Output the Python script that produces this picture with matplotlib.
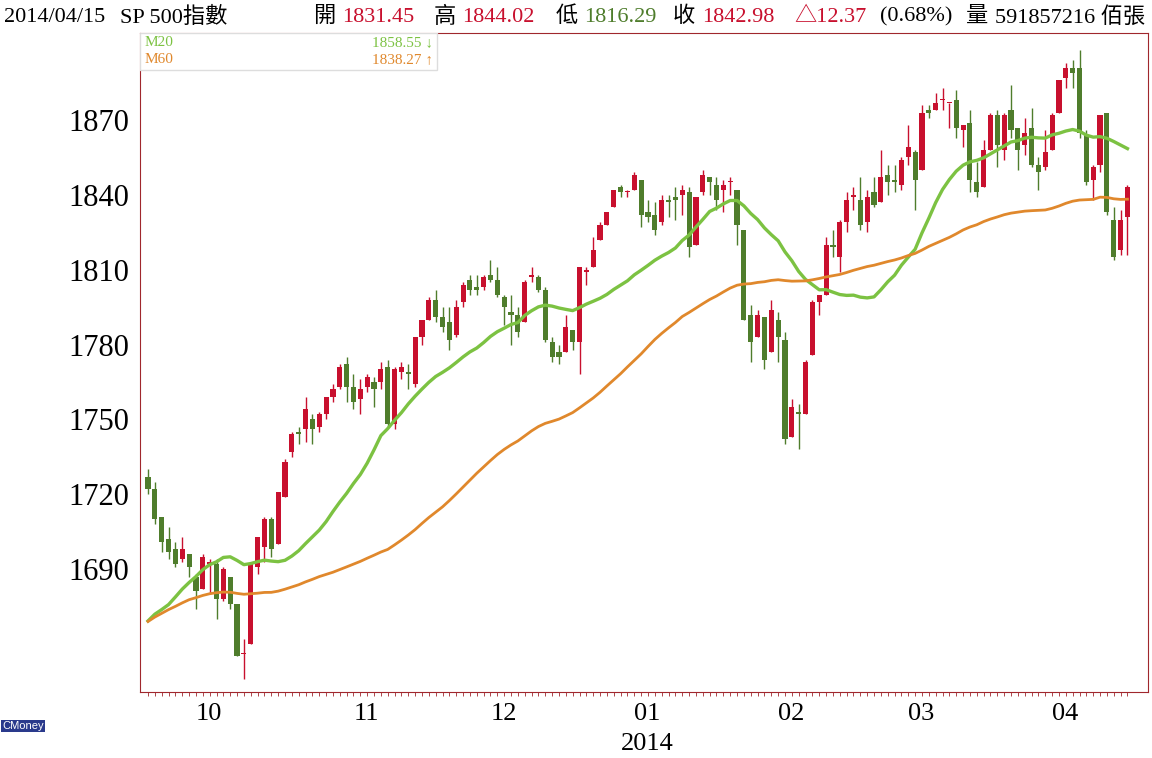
import matplotlib
matplotlib.use("Agg")
import matplotlib.pyplot as plt
from matplotlib.patches import Rectangle
import numpy as np
import pandas as pd

plt.rcParams['font.family'] = ['Liberation Serif', 'Noto Sans CJK TC', 'DejaVu Sans']

# closes before the visible window (used only for the moving averages)
prior_close = [1588, 1603, 1613, 1606, 1614, 1614, 1615, 1632, 1641, 1652, 1653, 1675, 1680, 1683, 1677,
               1680, 1689, 1692, 1696, 1692, 1686, 1690, 1691, 1685, 1685, 1686, 1706, 1710, 1707, 1698,
               1690, 1697, 1691, 1689, 1694, 1685, 1661, 1656, 1646, 1652, 1642, 1656, 1664, 1657, 1631,
               1635, 1638, 1633, 1640, 1653, 1655, 1655, 1671, 1684, 1690, 1683, 1688, 1698, 1705, 1726]

# visible candles: Sep 19 2013 .. Apr 15 2014  (open, high, low, close)
ohlc = [
    (1727, 1730, 1720, 1722), (1722, 1725, 1708, 1710), (1711, 1711, 1697, 1701), (1702, 1707, 1694, 1697),
    (1698, 1701, 1691, 1692), (1694, 1703, 1693, 1698), (1696, 1696, 1687, 1691), (1687, 1688, 1674, 1681),
    (1682, 1696, 1682, 1695), (1692, 1694, 1680, 1693), (1692, 1694, 1670, 1678), (1678, 1691, 1677, 1690),
    (1687, 1687, 1674, 1676), (1676, 1676, 1655, 1655), (1656, 1662, 1646, 1656), (1660, 1692, 1660, 1692),
    (1691, 1703, 1688, 1703), (1699, 1711, 1693, 1710), (1710, 1711, 1695, 1698), (1700, 1721, 1700, 1721),
    (1719, 1734, 1719, 1733), (1737, 1745, 1735, 1744), (1745, 1747, 1740, 1744), (1746, 1759, 1741, 1754),
    (1750, 1752, 1740, 1746), (1747, 1753, 1745, 1752), (1752, 1759, 1750, 1759), (1759, 1764, 1757, 1762),
    (1763, 1772, 1762, 1771), (1772, 1775, 1757, 1763), (1763, 1768, 1754, 1757),
    (1758, 1766, 1752, 1762), (1763, 1768, 1761, 1767), (1765, 1767, 1755, 1762), (1765, 1773, 1762, 1770),
    (1771, 1774, 1747, 1748), (1748, 1771, 1746, 1770), (1769, 1773, 1766, 1771), (1769, 1772, 1762, 1768),
    (1764, 1783, 1763, 1783), (1783, 1790, 1780, 1790), (1790, 1799, 1790, 1798), (1798, 1802, 1789, 1791),
    (1791, 1795, 1785, 1787), (1789, 1795, 1778, 1782), (1784, 1798, 1783, 1795), (1797, 1805, 1795, 1804),
    (1806, 1808, 1800, 1802), (1803, 1808, 1800, 1802), (1803, 1808, 1802, 1807), (1808, 1814, 1805, 1806),
    (1806, 1811, 1799, 1800), (1799, 1800, 1788, 1795), (1793, 1800, 1780, 1792), (1792, 1795, 1783, 1785),
    (1789, 1806, 1789, 1805), (1807, 1811, 1805, 1808), (1807, 1808, 1801, 1802), (1802, 1803, 1781, 1782),
    (1781, 1783, 1773, 1775), (1777, 1780, 1772, 1775), (1777, 1792, 1777, 1787), (1786, 1786, 1778, 1781),
    (1781, 1811, 1768, 1811), (1809, 1811, 1804, 1810), (1811, 1823, 1811, 1818), (1822, 1829, 1822, 1828),
    (1828, 1833, 1828, 1833), (1835, 1842, 1835, 1842), (1843, 1844, 1839, 1841), (1841, 1842, 1839, 1841),
    (1842, 1849, 1842, 1848),
    (1846, 1846, 1827, 1832), (1833, 1838, 1829, 1831), (1832, 1837, 1824, 1826), (1829, 1840, 1828, 1838),
    (1838, 1840, 1831, 1837), (1839, 1843, 1830, 1838), (1840, 1844, 1832, 1842), (1841, 1843, 1815, 1819),
    (1820, 1839, 1820, 1839), (1841, 1850, 1840, 1848), (1847, 1847, 1840, 1845), (1844, 1847, 1834, 1838),
    (1842, 1846, 1833, 1844), (1845, 1847, 1840, 1845), (1842, 1842, 1820, 1828), (1826, 1826, 1790, 1790),
    (1792, 1796, 1773, 1781), (1783, 1794, 1783, 1792), (1791, 1791, 1770, 1774), (1777, 1798, 1777, 1794),
    (1790, 1793, 1773, 1783),
    (1782, 1785, 1740, 1742), (1743, 1758, 1743, 1755), (1753, 1756, 1738, 1752), (1752, 1774, 1752, 1773),
    (1776, 1798, 1776, 1797), (1797, 1800, 1792, 1800), (1800, 1823, 1800, 1820), (1820, 1826, 1815, 1819),
    (1815, 1830, 1809, 1829), (1829, 1841, 1825, 1838), (1839, 1843, 1834, 1840), (1838, 1847, 1826, 1828),
    (1829, 1842, 1825, 1839), (1841, 1847, 1835, 1836), (1837, 1858, 1837, 1847), (1848, 1852, 1840, 1845),
    (1846, 1852, 1841, 1845), (1844, 1855, 1842, 1854), (1855, 1868, 1852, 1859),
    (1857, 1858, 1834, 1846), (1850, 1876, 1850, 1873), (1874, 1876, 1871, 1873), (1874, 1881, 1874, 1877),
    (1878, 1883, 1874, 1878), (1877, 1877, 1867, 1877), (1878, 1882, 1863, 1867), (1866, 1868, 1859, 1868),
    (1869, 1874, 1841, 1846), (1845, 1853, 1839, 1841), (1843, 1862, 1843, 1858), (1858, 1873, 1858, 1872),
    (1872, 1874, 1851, 1860), (1858, 1873, 1854, 1872), (1874, 1884, 1863, 1866), (1867, 1867, 1850, 1858),
    (1860, 1871, 1856, 1865), (1867, 1875, 1851, 1852), (1852, 1855, 1842, 1849), (1851, 1866, 1850, 1857),
    (1858, 1873, 1858, 1872),
    (1873, 1886, 1873, 1886), (1887, 1893, 1883, 1891), (1891, 1894, 1883, 1889), (1891, 1898, 1863, 1865),
    (1864, 1866, 1844, 1845), (1846, 1852, 1838, 1851), (1852, 1872, 1849, 1872), (1873, 1873, 1832, 1833),
    (1830, 1835, 1814, 1815), (1818, 1834, 1816, 1830), (1831, 1844, 1816, 1843),
]

month_labels = ["10", "11", "12", "01", "02", "03", "04"]
month_start_idx = [8, 31, 51, 72, 93, 112, 133]
ytick_vals = [1690, 1720, 1750, 1780, 1810, 1840, 1870]

df = pd.DataFrame(ohlc, columns=["o", "h", "l", "c"])
allc = pd.Series(prior_close + list(df["c"]))
ma20 = allc.rolling(20).mean().iloc[len(prior_close):].values
ma60 = allc.rolling(60).mean().iloc[len(prior_close):].values
x = np.arange(len(df))

UP, DOWN = "#c8102e", "#4f7d2c"
G20, O60 = "#7cc242", "#e0882c"
fig = plt.figure(figsize=(11.52, 7.58), dpi=100)
ax = fig.add_axes([140 / 1152, 1 - 692 / 758, 1008 / 1152, 659 / 758])

for i, r in df.iterrows():
    col = UP if r.c >= r.o else DOWN
    ax.vlines(i, r.l, r.h, color=col, lw=1)
    ax.bar(i, max(abs(r.c - r.o), 0.4), bottom=min(r.o, r.c), width=0.75, color=col, lw=0)

ax.plot(x, ma20, color=G20, lw=2.4)
ax.plot(x, ma60, color=O60, lw=2.0)

ax.set_xlim(-1.17, 146.0)
ax.set_ylim(1640.7, 1904.9)
ax.set_yticks(ytick_vals)
ax.set_yticklabels([str(v) for v in ytick_vals], fontsize=22)
ax.tick_params(axis="y", length=0, pad=8)
ax.set_xticks(x, minor=True)
ax.set_xticks(np.array(month_start_idx) + 0.9)
ax.set_xticklabels(month_labels, fontsize=19)
ax.tick_params(axis="x", which="minor", length=3, color="#a0272d", direction="out")
ax.tick_params(axis="x", which="major", length=0, pad=8)
for s in ax.spines.values():
    s.set_color("#a0272d")
ax.text(month_start_idx[3] + 0.9, -0.062, "2014", transform=ax.get_xaxis_transform(),
        ha="center", va="top", fontsize=19)

# legend box
ax.add_patch(Rectangle((0.0, 0.944), 0.295, 0.056, transform=ax.transAxes,
                       fc="white", ec="#dddddd", lw=1, zorder=5))
for yy, name, val, col in [(0.985, "M20", f"{ma20[-1]:.2f} \u2193", G20),
                           (0.960, "M60", f"{ma60[-1]:.2f} \u2191", O60)]:
    ax.text(0.004, yy, name, transform=ax.transAxes, va="center", ha="left", fontsize=11,
            color=col, zorder=6)
    ax.text(0.291, yy, val, transform=ax.transAxes, va="center", ha="right", fontsize=11,
            color=col, zorder=6, family=["Liberation Serif", "DejaVu Sans"])

# header
hdr = [(4, "2014/04/15", "black"), (120, "SP 500指數", "black"),
       (313, "開", "black"), (342, "1831.45", UP), (434, "高", "black"), (462, "1844.02", UP),
       (556, "低", "black"), (584, "1816.29", DOWN), (673, "收", "black"), (702, "1842.98", UP),
       (794, "△12.37", UP), (880, "(0.68%)", "black"), (966, "量", "black"), (995, "591857216 佰張", "black")]
for px, t, c in hdr:
    fig.text(px / 1152, 1 - 17 / 758, t, color=c, fontsize=16, va="center", ha="left")

fig.text(2 / 1152, 1 - 726 / 758, "CMoney", fontsize=8, color="white", va="center",
         family=["Liberation Sans"], bbox=dict(fc="#2a3a8c", ec="none", pad=1))

fig.savefig("out.png", dpi=100)
